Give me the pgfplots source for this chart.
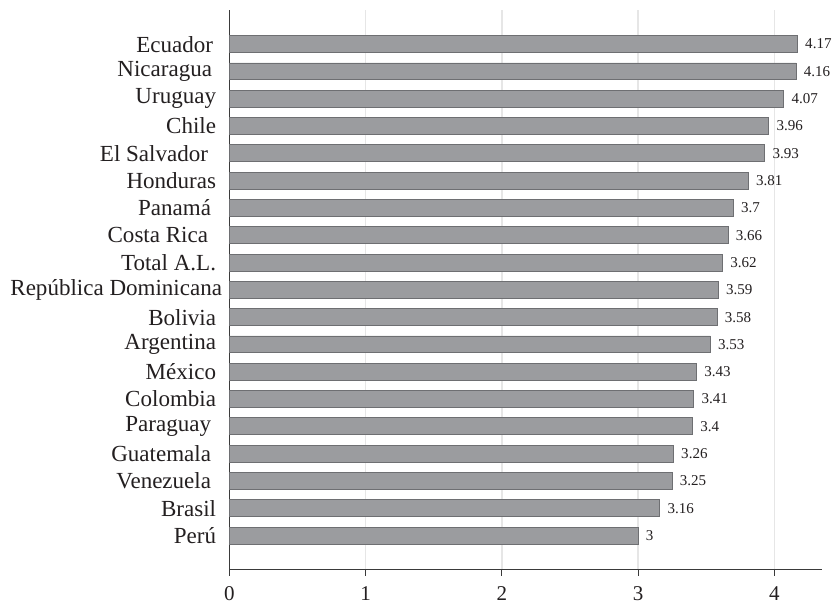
\documentclass[border=0pt]{standalone}
\usepackage{fontspec}
\setmainfont{Liberation Serif}
\usepackage{pgfplots}
\pgfplotsset{compat=1.18}

\definecolor{barfill}{HTML}{9B9C9F}
\definecolor{baredge}{HTML}{6E6F72}
\definecolor{gridgray}{HTML}{E6E6E6}
\definecolor{axisgray}{HTML}{3A3A3A}
\definecolor{txt}{HTML}{231F20}

\pgfplotstableread{
pos val
0  3
1  3.16
2  3.25
3  3.26
4  3.4
5  3.41
6  3.43
7  3.53
8  3.58
9  3.59
10 3.62
11 3.66
12 3.7
13 3.81
14 3.93
15 3.96
16 4.07
17 4.16
18 4.17
}\scores

\begin{document}
\begin{tikzpicture}
\begin{axis}[
    scale only axis,
    width=592bp, height=559bp,
    xmin=0, xmax=4.35,
    ymin=-1.25, ymax=19.25,
    axis x line=bottom,
    axis y line=left,
    axis line style={draw=axisgray, line width=1.1bp, -},
    xtick={0,1,2,3,4},
    tick align=outside,
    major tick length=6bp,
    xtick style={draw=axisgray, line width=1bp},
    ytick=data,
    ytick style={draw=none},
    yticklabels={Perú, Brasil, Venezuela\kern5bp, Guatemala\kern5bp, Paraguay\kern5bp,
        Colombia, México, Argentina, Bolivia, República Dominicana\kern-6bp, Total A.L.,
        Costa Rica\kern8bp, Panamá\kern5bp, Honduras, El Salvador\kern8bp, Chile,
        Uruguay, Nicaragua\kern4bp, Ecuador\kern3bp},
    yticklabel style={font=\fontsize{23bp}{26bp}\selectfont, text=txt, inner sep=0pt, xshift=-7bp},
    xticklabel style={font=\fontsize{21bp}{25bp}\selectfont, text=txt, anchor=north, inner sep=0pt, yshift=-11bp},
    /pgf/number format/assume math mode=true,
    xmajorgrids=true,
    grid style={draw=gridgray, line width=1.5bp},
    xbar,
    bar width=0.62,
    nodes near coords={\pgfmathprintnumber{\pgfplotspointmeta}},
    nodes near coords style={font=\fontsize{15bp}{18bp}\selectfont, text=txt, anchor=west, xshift=4bp},
    point meta=x,
    clip=false,
]
\addplot[fill=barfill, draw=baredge, line width=0.9bp] table[x=val, y=pos] {\scores};
\end{axis}
\pgfresetboundingbox
\path ([shift={(-229bp,-37bp)}]current axis.south west) rectangle ([shift={(16bp,10bp)}]current axis.north east);
\end{tikzpicture}
\end{document}
